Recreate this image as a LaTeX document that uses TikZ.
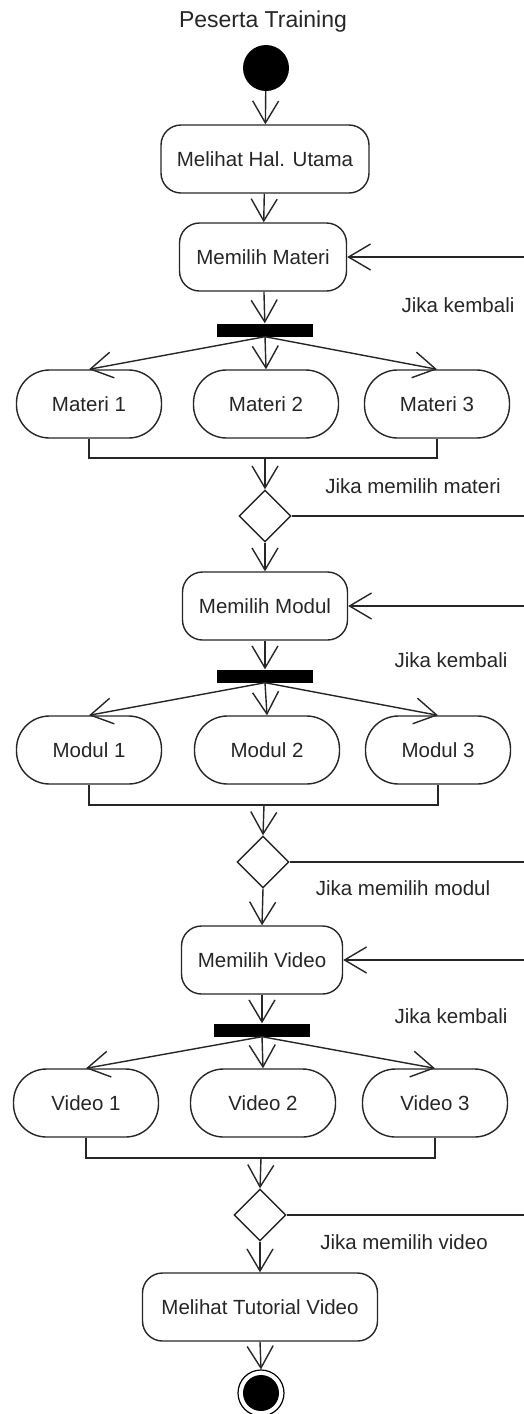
\documentclass[tikz,border=0pt]{standalone}
\usepackage{fontspec}
\setmainfont{Liberation Sans}
\usetikzlibrary{arrows.meta,shapes.geometric}
\begin{document}
\begin{tikzpicture}[x=1pt,y=-1pt,
  every node/.style={font=\fontsize{20.5}{24}\selectfont, text=black!85},
  flow/.style={line width=1.4pt, draw=black!85},
  arr/.style={flow, -{Straight Barb[length=22pt,width=26pt,line width=1.4pt]}},
  action/.style={flow, draw, rectangle, rounded corners=20pt, minimum height=68pt, inner sep=0pt},
  branch/.style={flow, draw, rectangle, rounded corners=33pt, minimum width=145pt, minimum height=68pt, inner sep=0pt},
  forkbar/.style={fill=black, draw=none, rectangle, minimum width=96pt, minimum height=13pt, inner sep=0pt},
  choice/.style={flow, draw, diamond, minimum width=52pt, minimum height=52pt, inner sep=0pt, aspect=1},
  guard/.style={anchor=center}
]
\useasboundingbox (0,0) rectangle (524,1414);

% title and initial node
\node (title) at (263,22) {\fontsize{23}{26}\selectfont Peserta Training};
\node[circle, fill=black, minimum size=46pt, inner sep=0pt] (start) at (266,68) {};

% main page
\node[action, minimum width=208pt] (hal) at (265,159) {Melihat Hal. Utama};

% choose material
\node[action, minimum width=167pt] (materi) at (263,257) {Memilih Materi};
\node[guard] (g1) at (458,305) {Jika kembali};
\node[forkbar] (bar1) at (265,330) {};
\node[branch] (m1) at (89,404) {Materi 1};
\node[branch] (m2) at (266,404) {Materi 2};
\node[branch] (m3) at (437,404) {Materi 3};
\coordinate (j1) at (265,458);
\node[guard] (g2) at (413,486) {Jika memilih materi};
\node[choice] (d1) at (265,516) {};

% choose module
\node[action, minimum width=165pt] (modul) at (265,606) {Memilih Modul};
\node[guard] (g3) at (451,660) {Jika kembali};
\node[forkbar] (bar2) at (265,676) {};
\node[branch] (o1) at (89,750) {Modul 1};
\node[branch] (o2) at (267,750) {Modul 2};
\node[branch] (o3) at (438,750) {Modul 3};
\coordinate (j2) at (264,805);
\node[choice] (d2) at (263,862) {};
\node[guard] (g4) at (403,888) {Jika memilih modul};

% choose video
\node[action, minimum width=161pt] (video) at (262,960) {Memilih Video};
\node[guard] (g5) at (451,1016) {Jika kembali};
\node[forkbar] (bar3) at (262,1030) {};
\node[branch] (v1) at (86,1103) {Video 1};
\node[branch] (v2) at (263,1103) {Video 2};
\node[branch] (v3) at (435,1103) {Video 3};
\coordinate (j3) at (261,1158);
\node[choice] (d3) at (260,1215) {};
\node[guard] (g6) at (404,1242) {Jika memilih video};

% tutorial and final node
\node[action, minimum width=235pt] (tutor) at (260,1307) {Melihat Tutorial Video};
\node[circle, draw=black, line width=1.2pt, minimum size=46pt, inner sep=0pt] (endring) at (261,1393) {};
\node[circle, fill=black, minimum size=36pt, inner sep=0pt] (enddot) at (endring.center) {};

% the right border, where the loop lines leave and return
\coordinate (edge) at (524,0);

% main flow
\draw[arr] (start) -- (hal);
\draw[arr] (hal) -- (materi);
\draw[arr] (materi) -- (bar1);
\draw[arr] (bar1.south) -- (m1.north);
\draw[arr] (bar1.south) -- (m2.north);
\draw[arr] (bar1.south) -- (m3.north);
\draw[flow] (m1.south) |- (j1) -| (m3.south);
\draw[arr] (j1) -- (d1.north);
\draw[arr] (d1.south) -- (modul.north);
\draw[arr] (modul) -- (bar2);
\draw[arr] (bar2.south) -- (o1.north);
\draw[arr] (bar2.south) -- (o2.north);
\draw[arr] (bar2.south) -- (o3.north);
\draw[flow] (o1.south) |- (j2) -| (o3.south);
\draw[arr] (j2) -- (d2.north);
\draw[arr] (d2.south) -- (video.north);
\draw[arr] (video) -- (bar3);
\draw[arr] (bar3.south) -- (v1.north);
\draw[arr] (bar3.south) -- (v2.north);
\draw[arr] (bar3.south) -- (v3.north);
\draw[flow] (v1.south) |- (j3) -| (v3.south);
\draw[arr] (j3) -- (d3.north);
\draw[arr] (d3.south) -- (tutor.north);
\draw[arr] (tutor.south) -- (endring.north);

% branches leaving to the right and loops returning
\draw[flow] (d1.east) -- (d1.east -| edge);
\draw[flow] (d2.east) -- (d2.east -| edge);
\draw[flow] (d3.east) -- (d3.east -| edge);
\draw[arr] (materi.east -| edge) -- (materi.east);
\draw[arr] (modul.east -| edge) -- (modul.east);
\draw[arr] (video.east -| edge) -- (video.east);
\end{tikzpicture}
\end{document}
